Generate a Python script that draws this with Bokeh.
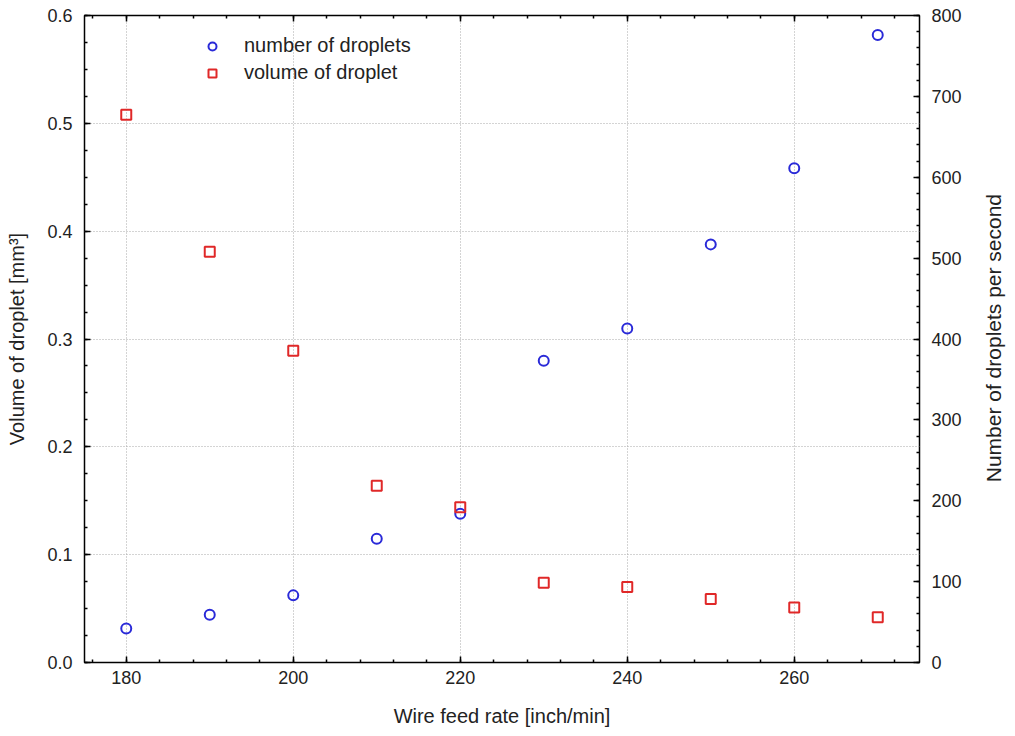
import math
from bokeh.plotting import figure
from bokeh.layouts import row
from bokeh.core.properties import value
from bokeh.models import (Range1d, LinearAxis, Legend, LegendItem, SingleIntervalTicker,
                          FixedTicker, NumeralTickFormatter)
from bokeh.embed import file_html
from bokeh.resources import INLINE

feed_rate = [180, 190, 200, 210, 220, 230, 240, 250, 260, 270]
droplet_volume = [0.508, 0.381, 0.289, 0.164, 0.144, 0.074, 0.070, 0.059, 0.051, 0.042]
droplet_count = [42, 59, 83, 153, 184, 373, 413, 517, 611, 776]

left_ticks = [0.0, 0.1, 0.2, 0.3, 0.4, 0.5, 0.6]
left_minor = [round(i * 0.025, 3) for i in range(25)]

FONT = "Liberation Sans"
TXT = "#222222"

W, H = 975, 730
p = figure(width=W, height=H, output_backend="svg", toolbar_location=None,
           x_range=Range1d(175, 275), y_range=Range1d(0, 0.6),
           min_border_left=84, min_border_right=W - 919, min_border_top=15,
           min_border_bottom=H - 662)
p.extra_y_ranges = {"right": Range1d(0, 800)}
p.outline_line_color = "black"
p.outline_line_width = 1.5
p.background_fill_color = "white"
p.border_fill_color = "white"

def style_axis(ax, labels=True):
    ax.axis_line_color = None
    ax.major_tick_in = 6
    ax.major_tick_out = 0
    ax.minor_tick_in = 3
    ax.minor_tick_out = 0
    ax.major_tick_line_color = "black"
    ax.minor_tick_line_color = "black"
    ax.major_tick_line_width = 1.5
    ax.minor_tick_line_width = 1.5
    ax.major_label_text_font = FONT
    ax.major_label_text_font_size = "18px"
    ax.major_label_text_color = TXT
    ax.axis_label_text_font = FONT
    ax.axis_label_text_font_size = "20px"
    ax.axis_label_text_font_style = "normal"
    ax.axis_label_text_color = TXT
    if not labels:
        ax.major_label_text_alpha = 0

xax = p.xaxis[0]
xax.ticker = SingleIntervalTicker(interval=20, num_minor_ticks=5)
xax.axis_label = "Wire feed rate [inch/min]"
style_axis(xax)
xax.major_label_standoff = 8
xax.axis_label_standoff = 18

yax = p.yaxis[0]
yax.ticker = FixedTicker(ticks=left_ticks, minor_ticks=left_minor)
yax.axis_label = "Volume of droplet [mm³]"
yax.formatter = NumeralTickFormatter(format="0.0")
style_axis(yax)
yax.major_label_standoff = 12
yax.axis_label_standoff = 16

rax = LinearAxis(y_range_name="right",
                 ticker=SingleIntervalTicker(interval=100, num_minor_ticks=5))
style_axis(rax)
rax.major_label_standoff = 12
p.add_layout(rax, "right")

tax = LinearAxis(ticker=SingleIntervalTicker(interval=20, num_minor_ticks=5))
style_axis(tax, labels=False)
tax.major_label_text_font_size = "1px"
tax.major_label_standoff = 0
p.add_layout(tax, "above")

p.xgrid.ticker = SingleIntervalTicker(interval=20)
p.ygrid.ticker = FixedTicker(ticks=left_ticks)
for g in (p.xgrid, p.ygrid):
    g.grid_line_color = "#a8a8a8"
    g.grid_line_dash = "1 2"
    g.grid_line_width = 1

r1 = p.scatter(feed_rate, droplet_count, y_range_name="right", marker="circle", size=10,
               fill_color=None, line_color="#2a2ad8", line_width=2)
r2 = p.scatter(feed_rate, droplet_volume, marker="square", size=10,
               fill_color=None, line_color="#e02828", line_width=2)

legend = Legend(items=[LegendItem(label="number of droplets", renderers=[r1]),
                       LegendItem(label="volume of droplet", renderers=[r2])],
                location=(118, 578))
legend.border_line_color = None
legend.background_fill_alpha = 0
legend.label_text_font = FONT
legend.label_text_font_size = "20px"
legend.label_text_color = TXT
legend.glyph_width = 20
legend.glyph_height = 20
legend.spacing = 4
legend.label_standoff = 22
legend.label_height = 20
p.add_layout(legend, "center")

# narrow panel holding the right-hand axis title (reads bottom to top)
W2 = 35
p2 = figure(width=W2, height=H, output_backend="svg", toolbar_location=None,
            x_range=Range1d(0, W2), y_range=Range1d(0, H),
            x_axis_location=None, y_axis_location=None,
            min_border=0, min_border_left=0, min_border_right=0,
            min_border_top=0, min_border_bottom=0)
p2.outline_line_color = None
p2.grid.visible = False
p2.background_fill_color = "white"
p2.border_fill_color = "white"
p2.text(x=[18], y=[H - 364], text=["Number of droplets per second"], angle=math.pi / 2,
        text_align="center", text_baseline="middle", text_font=value(FONT),
        text_font_size="21px", text_color=TXT)

layout = row(p, p2)
open("out.html", "w").write(file_html(layout, INLINE))
